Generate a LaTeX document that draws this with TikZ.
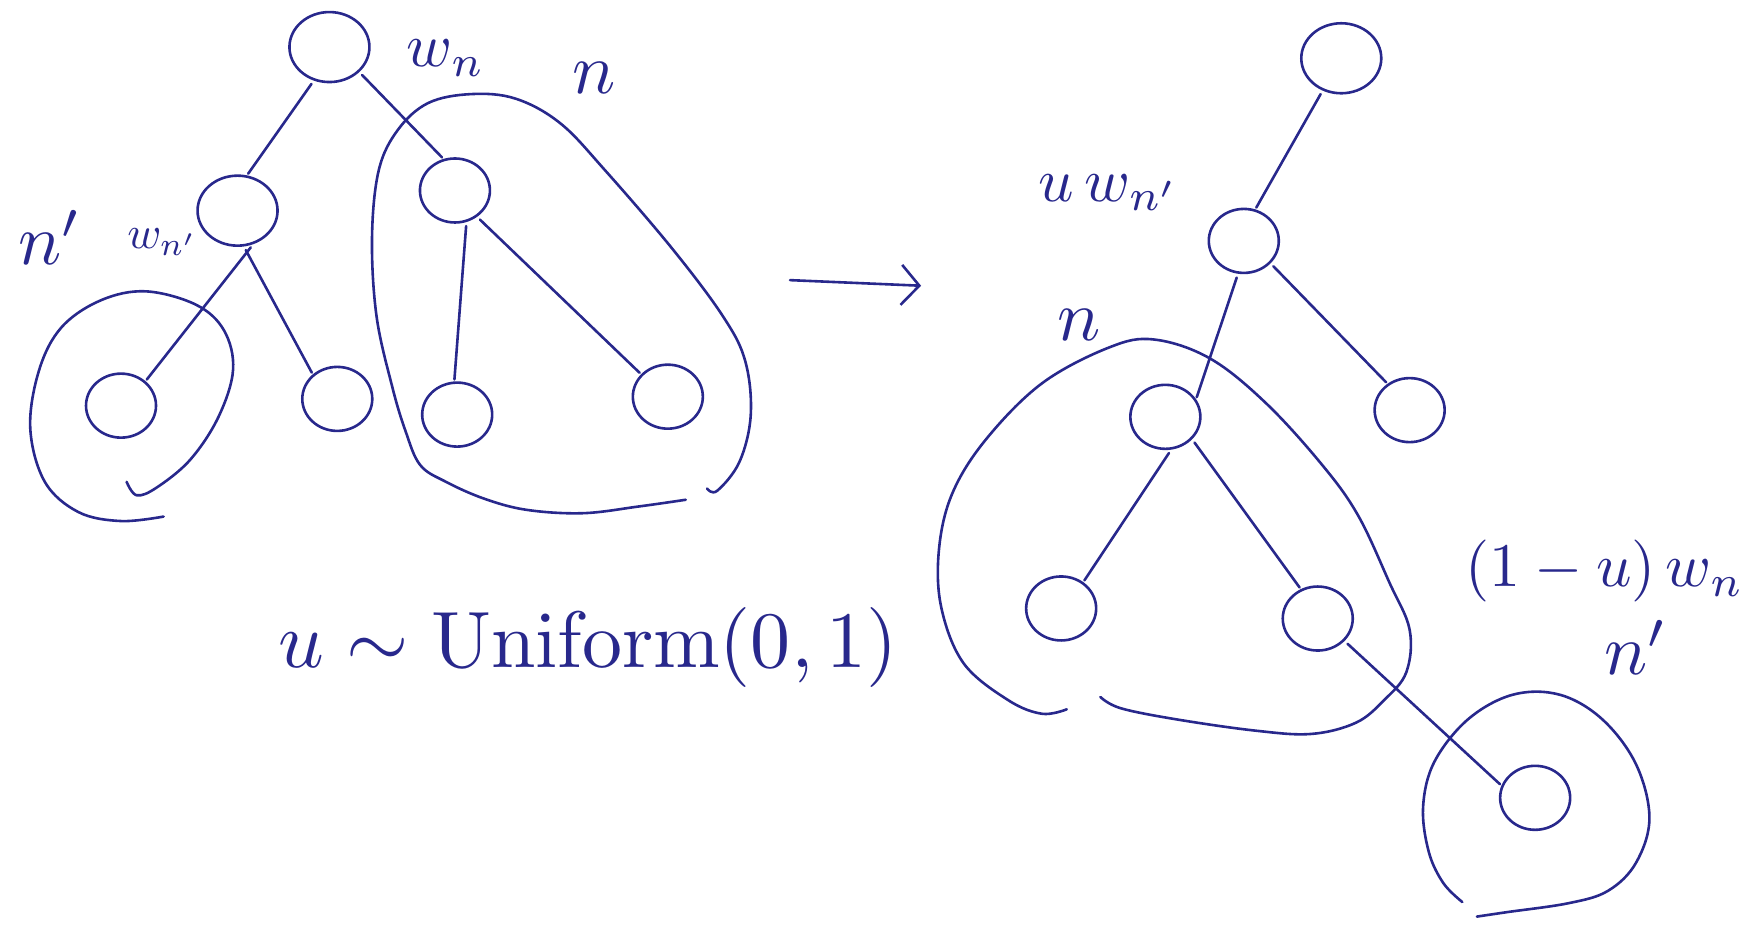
\documentclass[tikz,border=0pt]{standalone}
\usepackage{graphicx}
\usepackage{amsmath}
\usetikzlibrary{shapes.geometric,arrows.meta}
\definecolor{ink}{RGB}{40,40,140}
\newcommand{\bigtxt}[1]{\scalebox{7.2}{#1}}
\newcommand{\midtxt}[1]{\scalebox{6.2}{#1}}
\newcommand{\smalltxt}[1]{\scalebox{4.6}{#1}}
\newcommand{\unitxt}[1]{\scalebox{8}{#1}}
\begin{document}
\begin{tikzpicture}[x=1.1205pt,y=-1.1205pt, line cap=round, line join=round,
  treenode/.style={ellipse, draw=ink, line width=2.6pt, minimum width=70pt, minimum height=64pt, inner sep=0pt},
  bignode/.style={treenode, minimum width=80pt, minimum height=70pt},
  edge/.style={draw=ink, line width=2.6pt, shorten <=4pt, shorten >=2pt},
  cluster/.style={draw=ink, line width=2.6pt},
  lab/.style={text=ink, inner sep=0pt}]
\useasboundingbox (0,0) rectangle (1568,826);

% ---------------- left tree ----------------
\node[bignode] (r1) at (294,42) {};
\node[bignode] (a1) at (212,188) {};
\node[treenode] (b1) at (406,170) {};
\node[treenode] (c1) at (108,362) {};
\node[treenode] (d1) at (301,356) {};
\node[treenode] (e1) at (408,370) {};
\node[treenode] (f1) at (596,354) {};

\draw[edge] (r1.-115) -- (a1.75);
\draw[edge] (r1.-40) -- (b1.110);
\draw[edge] (a1.-65) -- (c1.45);
\draw[edge] (a1.-80) -- (d1.135);
\draw[edge] (b1.-70) -- (e1.95);
\draw[edge] (b1.-50) -- (f1.140);

% clusters left
\draw[cluster] plot[smooth, tension=0.6] coordinates {
  (113,430) (122,442) (140,435) (170,410) (195,372) (208,330) (200,295)
  (175,272) (130,260) (90,268) (55,292) (35,330) (27,382) (40,430)
  (70,457) (108,465) (146,461)};
\draw[cluster] plot[smooth, tension=0.6] coordinates {
  (631,436) (640,438) (660,412) (670,370) (665,322) (645,282) (600,222)
  (540,152) (500,110) (460,88) (420,84) (382,92) (355,116) (338,152)
  (332,212) (336,282) (350,345) (362,385) (375,415) (398,430) (432,445)
  (470,455) (520,458) (570,452) (612,446)};

% labels left
\node[lab] (ln1) at (45,212) {\bigtxt{$n'$}};
\node[lab] (lw1) at (145,216) {\smalltxt{$w_{n'}$}};
\node[lab] (lw2) at (398,52) {\midtxt{$w_n$}};
\node[lab] (ln2) at (530,70) {\bigtxt{$n$}};

% arrow
\coordinate (arA) at (705,250);
\coordinate (arB) at (822,255);
\draw[ink, line width=2.6pt, -{Straight Barb[length=18pt, width=40pt]}] (arA) -- (arB);

% uniform
\node[lab] (unif) at (525,578) {\unitxt{$u\sim\mathrm{Uniform}(0,1)$}};

% ---------------- right tree ----------------
\node[bignode] (r2) at (1197,52) {};
\node[treenode] (a2) at (1110,215) {};
\node[treenode] (g2) at (1258,366) {};
\node[treenode] (b2) at (1040,372) {};
\node[treenode] (e2) at (947,543) {};
\node[treenode] (f2) at (1176,552) {};
\node[treenode] (c2) at (1370,712) {};

\draw[edge] (r2.-120) -- (a2.70);
\draw[edge] (a2.-100) -- (b2.30);
\draw[edge] (a2.-40) -- (g2.130);
\draw[edge] (b2.-80) -- (e2.50);
\draw[edge] (b2.-40) -- (f2.120);
\draw[edge] (f2.-40) -- (c2.160);

% clusters right
\draw[cluster] plot[smooth, tension=0.6] coordinates {
  (952,633) (930,637) (900,625) (860,592) (840,542) (838,490) (850,440)
  (880,392) (930,342) (990,310) (1030,303) (1080,320) (1130,360)
  (1180,415) (1212,460) (1240,520) (1258,562) (1255,600) (1235,625)
  (1210,645) (1170,655) (1120,652) (1050,642) (1000,632) (982,622)};
\draw[cluster] plot[smooth, tension=0.6] coordinates {
  (1305,805) (1288,788) (1275,760) (1270,720) (1280,680) (1310,642)
  (1350,620) (1392,620) (1430,642) (1460,682) (1472,730) (1460,770)
  (1435,795) (1400,806) (1345,814) (1318,818)};

% labels right
\node[lab] (lw3) at (990,172) {\midtxt{$u\,w_{n'}$}};
\node[lab] (ln3) at (963,290) {\bigtxt{$n$}};
\node[lab] (lw4) at (1432,510) {\midtxt{$(1-u)\,w_n$}};
\node[lab] (ln4) at (1460,578) {\bigtxt{$n'$}};
\end{tikzpicture}
\end{document}
